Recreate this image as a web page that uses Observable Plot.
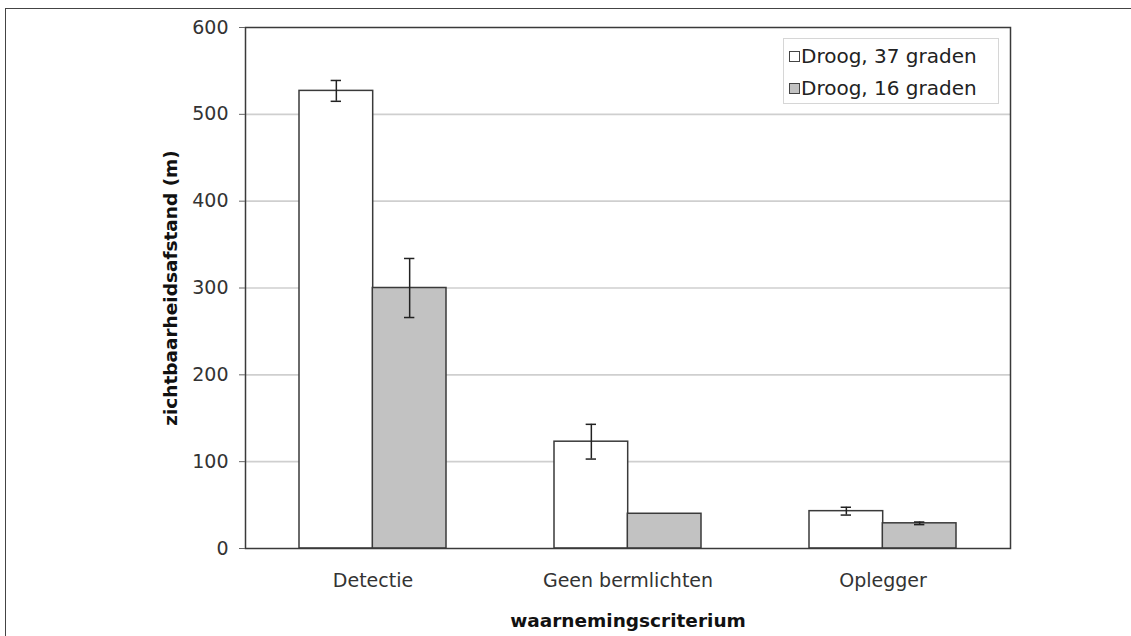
<!DOCTYPE html>
<html><head><meta charset="utf-8">
<script src="https://cdn.jsdelivr.net/npm/d3@7"></script>
<script src="https://cdn.jsdelivr.net/npm/@observablehq/plot@0.6"></script>
<style>
body{margin:0;background:#fff;}
#wrap{position:relative;width:1131px;height:636px;overflow:hidden;background:#fff;}
#wrap svg{position:absolute;left:0;top:0;}
#border{position:absolute;left:5px;top:8px;width:1300px;height:800px;border-top:1.5px solid #444;border-left:1.5px solid #444;pointer-events:none;}
#legend{position:absolute;left:783px;top:38px;width:216px;height:66px;border:1px solid #d6d6d6;box-sizing:border-box;background:#fff;font-family:"DejaVu Sans",sans-serif;font-size:20px;color:#222;}
.lg{position:absolute;left:5px;height:24px;line-height:24px;white-space:nowrap;}
.sw{display:inline-block;width:9px;height:9px;border:1.5px solid #444;margin-right:1px;vertical-align:1px;}
g[aria-label="y-axis label"] text, g[aria-label="x-axis label"] text{font-weight:bold;font-size:18.5px;fill:#111;}
</style></head>
<body><div id="wrap"></div>
<script>
const categories = ["Detectie", "Geen bermlichten", "Oplegger"];
const seriesNames = ["Droog, 37 graden", "Droog, 16 graden"];
const means37 = [527, 123, 43];
const errors37 = [12, 20, 4.5];
const means16 = [300, 40, 29];
const errors16 = [34, 0, 1.5];
const yTicks = [0, 100, 200, 300, 400, 500, 600];
const seriesFills = ["#ffffff", "#c2c2c2"];

const W = 1131, H = 636;
const mL = 245, mR = 121, mT = 27, mB = 88;
const pad = 0.425;
const bw = (W - mL - mR) / categories.length * (1 - pad);
const half = bw / 2;
const cap = 5;

const rows37 = categories.map((c, i) => ({cat: c, value: means37[i], lo: means37[i] - errors37[i], hi: means37[i] + errors37[i], err: errors37[i]}));
const rows16 = categories.map((c, i) => ({cat: c, value: means16[i], lo: means16[i] - errors16[i], hi: means16[i] + errors16[i], err: errors16[i]}));
const e37 = rows37.filter(d => d.err > 0);
const e16 = rows16.filter(d => d.err > 0);

const chart = Plot.plot({
  width: W, height: H,
  marginLeft: mL, marginRight: mR, marginTop: mT, marginBottom: mB,
  style: {fontFamily: "DejaVu Sans, sans-serif", fontSize: "19px", color: "#333", background: "transparent"},
  x: {domain: categories, paddingInner: pad, paddingOuter: pad / 2},
  y: {domain: [0, 600]},
  marks: [
    Plot.ruleY(yTicks.filter(t => t > 0 && t < 600), {stroke: "#cfcfcf", strokeWidth: 1.6}),
    Plot.barY(rows37, {x: "cat", y: "value", fill: seriesFills[0], stroke: "#3a3a3a", strokeWidth: 1.5, insetRight: half}),
    Plot.barY(rows16, {x: "cat", y: "value", fill: seriesFills[1], stroke: "#3a3a3a", strokeWidth: 1.5, insetLeft: half}),
    Plot.ruleX(e37, {x: "cat", y1: "lo", y2: "hi", dx: -half / 2, stroke: "#222", strokeWidth: 1.5}),
    Plot.ruleX(e16, {x: "cat", y1: "lo", y2: "hi", dx: half / 2, stroke: "#222", strokeWidth: 1.5}),
    Plot.tickY(e37, {x: "cat", y: "hi", insetLeft: half / 2 - cap, insetRight: 1.5 * half - cap, stroke: "#222", strokeWidth: 1.5}),
    Plot.tickY(e37, {x: "cat", y: "lo", insetLeft: half / 2 - cap, insetRight: 1.5 * half - cap, stroke: "#222", strokeWidth: 1.5}),
    Plot.tickY(e16, {x: "cat", y: "hi", insetLeft: 1.5 * half - cap, insetRight: half / 2 - cap, stroke: "#222", strokeWidth: 1.5}),
    Plot.tickY(e16, {x: "cat", y: "lo", insetLeft: 1.5 * half - cap, insetRight: half / 2 - cap, stroke: "#222", strokeWidth: 1.5}),
    Plot.frame({stroke: "#3a3a3a", strokeWidth: 1.5}),
    Plot.axisY({ticks: yTicks, tickSize: 6, tickPadding: 11, tickFormat: d => String(d), stroke: "#666",
      label: "zichtbaarheidsafstand (m)", labelAnchor: "center", labelArrow: "none", labelOffset: 82}),
    Plot.axisX({tickSize: 0, tickPadding: 25, label: "waarnemingscriterium", labelAnchor: "center", labelArrow: "none", labelOffset: 78})
  ]
});
const wrap = document.getElementById("wrap");
wrap.appendChild(chart);
const border = document.createElement("div");
border.id = "border";
wrap.appendChild(border);
const legend = document.createElement("div");
legend.id = "legend";
seriesNames.forEach((name, i) => {
  const row = document.createElement("div");
  row.className = "lg";
  row.style.top = (5 + i * 32) + "px";
  const sw = document.createElement("span");
  sw.className = "sw";
  sw.style.background = seriesFills[i];
  row.appendChild(sw);
  row.appendChild(document.createTextNode(name));
  legend.appendChild(row);
});
wrap.appendChild(legend);
</script>
</body></html>
